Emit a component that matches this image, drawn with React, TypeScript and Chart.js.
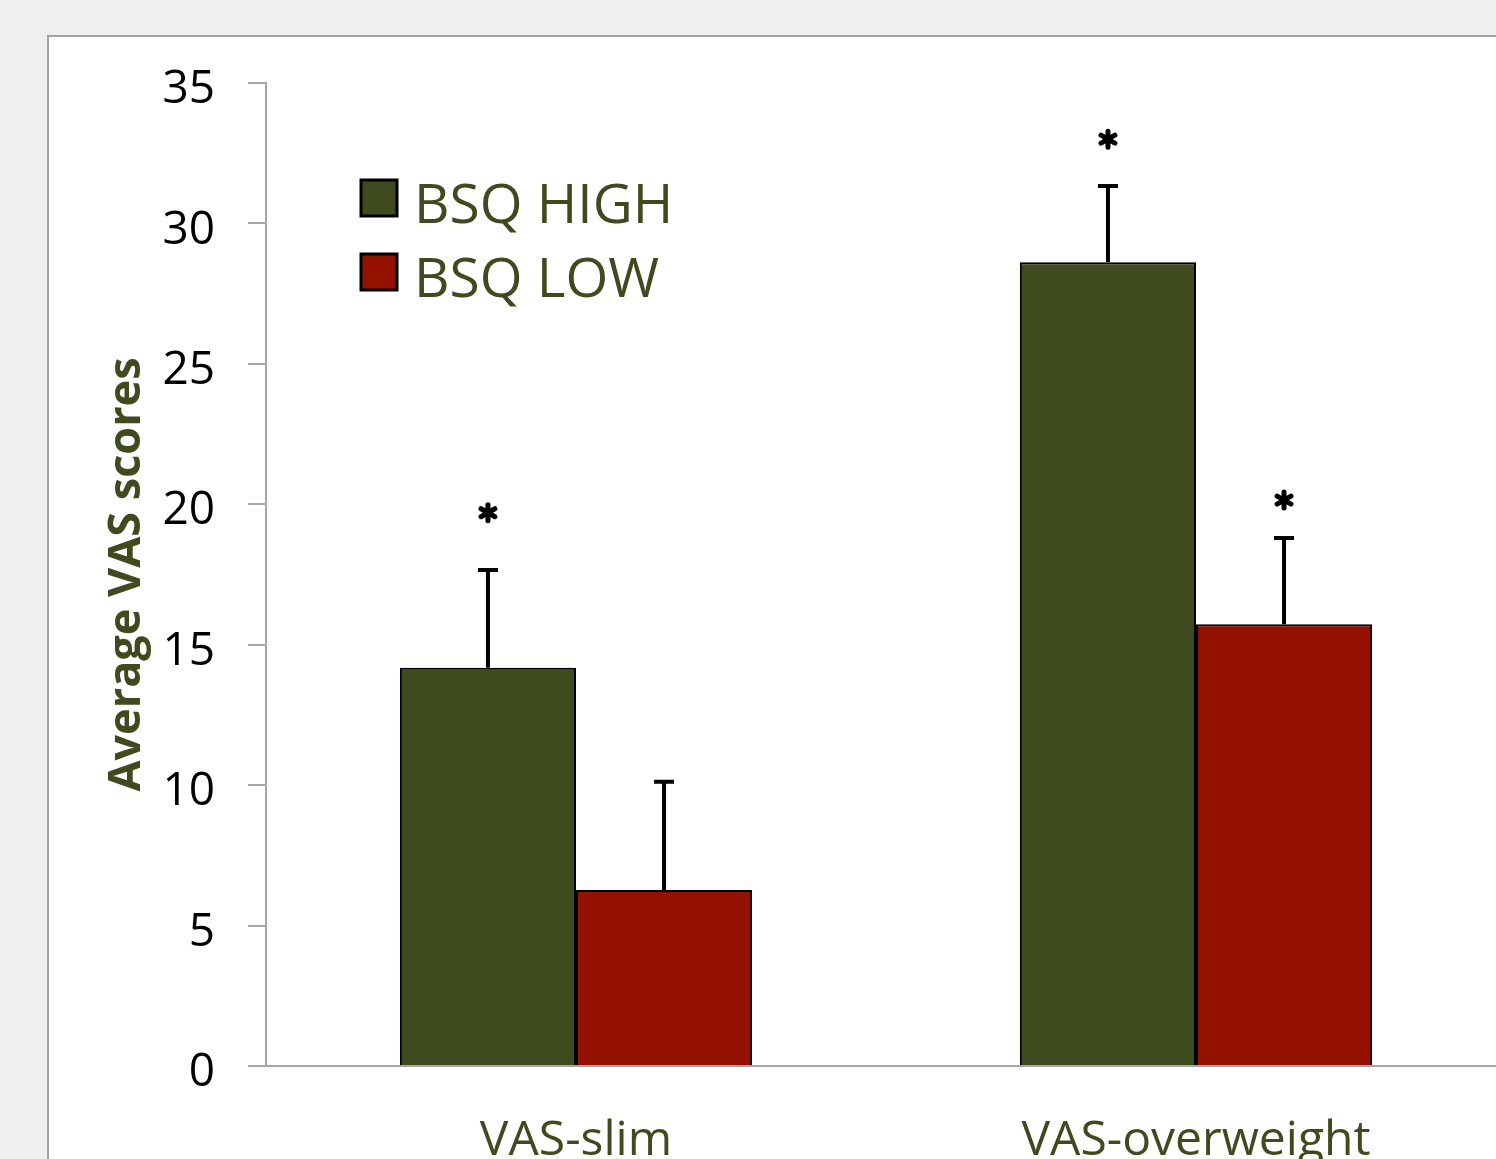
import { useEffect, useRef } from "react";
import { Chart, registerables } from "chart.js";

Chart.register(...registerables);

const categories = ["VAS-slim", "VAS-overweight"];
const seriesNames = ["BSQ HIGH", "BSQ LOW"];
const highMeans = [14.18, 28.62];
const lowMeans = [6.27, 15.73];
const highErrors = [3.48, 2.71];
const lowErrors = [3.85, 3.07];
const highStars: (number | null)[] = [19.7, 33.0];
const lowStars: (number | null)[] = [null, 20.15];
const yMin = 0;
const yMax = 35;
const yStep = 5;
const yTitle = "Average VAS scores";

const GREEN = "#3f4a1f";
const RED = "#941100";
const FONT = "'Open Sans', 'DejaVu Sans', sans-serif";
const CW = 1560;
const CH = 1220;

const errorBarPlugin = {
  id: "errorBars",
  afterDatasetsDraw(chart: any) {
    const ctx = chart.ctx;
    const y = chart.scales.y;
    chart.data.datasets.forEach((ds: any, di: number) => {
      const meta = chart.getDatasetMeta(di);
      meta.data.forEach((bar: any, i: number) => {
        const val = ds.data[i];
        const err = ds.errors[i];
        const yTop = y.getPixelForValue(val + err);
        const yBase = bar.y;
        ctx.save();
        ctx.strokeStyle = "#000";
        ctx.lineWidth = 4;
        ctx.lineCap = "butt";
        ctx.beginPath();
        ctx.moveTo(bar.x, yBase);
        ctx.lineTo(bar.x, yTop - 2);
        ctx.moveTo(bar.x - 10, yTop);
        ctx.lineTo(bar.x + 10, yTop);
        ctx.stroke();
        const star = ds.stars[i];
        if (star !== null && star !== undefined) {
          const sy = y.getPixelForValue(star);
          ctx.lineWidth = 5;
          ctx.lineCap = "round";
          ctx.beginPath();
          for (let k = 0; k < 3; k++) {
            const a = Math.PI / 2 + (k * Math.PI) / 3;
            const r = 8;
            ctx.moveTo(bar.x + Math.cos(a) * r, sy + Math.sin(a) * r);
            ctx.lineTo(bar.x - Math.cos(a) * r, sy - Math.sin(a) * r);
          }
          ctx.stroke();
        }
        ctx.restore();
      });
    });
  },
};

const legendPlugin = {
  id: "insideLegend",
  afterDraw(chart: any) {
    const ctx = chart.ctx;
    const area = chart.chartArea;
    const boxX = area.left + 95;
    const boxY0 = area.top + 97;
    const gap = 74;
    chart.data.datasets.forEach((ds: any, i: number) => {
      const by = boxY0 + i * gap;
      ctx.save();
      ctx.fillStyle = ds.backgroundColor;
      ctx.fillRect(boxX, by, 36, 36);
      ctx.strokeStyle = "#000";
      ctx.lineWidth = 3;
      ctx.strokeRect(boxX, by, 36, 36);
      ctx.fillStyle = GREEN;
      ctx.font = `55px ${FONT}`;
      ctx.textBaseline = "middle";
      ctx.textAlign = "left";
      ctx.fillText(ds.label, boxX + 53, by + 27);
      ctx.restore();
    });
  },
};

export default function App() {
  const ref = useRef<HTMLCanvasElement | null>(null);
  useEffect(() => {
    if (!ref.current) return;
    const chart = new Chart(ref.current, {
      type: "bar",
      data: {
        labels: categories,
        datasets: [
          {
            label: seriesNames[0],
            data: highMeans,
            backgroundColor: GREEN,
            borderColor: "#000",
            borderWidth: 2,
            errors: highErrors,
            stars: highStars,
          } as any,
          {
            label: seriesNames[1],
            data: lowMeans,
            backgroundColor: RED,
            borderColor: "#000",
            borderWidth: 2,
            errors: lowErrors,
            stars: lowStars,
          } as any,
        ],
      },
      options: {
        animation: false,
        responsive: false,
        devicePixelRatio: 1,
        layout: { padding: { top: 83, right: CW - 1506, left: 0, bottom: 0 } },
        datasets: { bar: { barPercentage: 1, categoryPercentage: 0.568 } },
        plugins: { legend: { display: false }, tooltip: { enabled: false } },
        scales: {
          x: {
            afterFit: (s: any) => {
              s.height = CH - 1066;
            },
            grid: { display: false, drawTicks: false, tickLength: 0 },
            border: { color: "#a6a6a6", width: 2 },
            ticks: {
              color: GREEN,
              padding: 47,
              font: { family: FONT, size: 48 },
            },
          },
          y: {
            min: yMin,
            max: yMax,
            afterFit: (s: any) => {
              s.width = 266;
            },
            grid: {
              drawOnChartArea: false,
              drawTicks: true,
              tickLength: 18,
              color: "#a6a6a6",
              lineWidth: 2,
            },
            border: { color: "#a6a6a6", width: 2 },
            ticks: {
              stepSize: yStep,
              color: "#000",
              padding: 33,
              labelOffset: 7,
              font: { family: FONT, size: 46 },
            },
            title: {
              display: true,
              text: yTitle,
              color: GREEN,
              font: { family: FONT, size: 45, weight: "bold", lineHeight: 1 },
              padding: { top: 105, bottom: 0 },
            },
          },
        },
      },
      plugins: [errorBarPlugin, legendPlugin],
    });
    return () => chart.destroy();
  }, []);

  return (
    <div
      style={{
        position: "absolute",
        left: 0,
        top: 0,
        width: 1496,
        height: 1159,
        overflow: "hidden",
        background: "#efefef",
      }}
    >
      <div
        style={{
          position: "absolute",
          left: 47,
          top: 35,
          width: 1600,
          height: 1300,
          background: "#fff",
          border: "2px solid #a3a3a3",
          boxSizing: "border-box",
        }}
      />
      <canvas
        ref={ref}
        width={CW}
        height={CH}
        style={{ position: "absolute", left: 0, top: 0, width: CW, height: CH }}
      />
    </div>
  );
}
